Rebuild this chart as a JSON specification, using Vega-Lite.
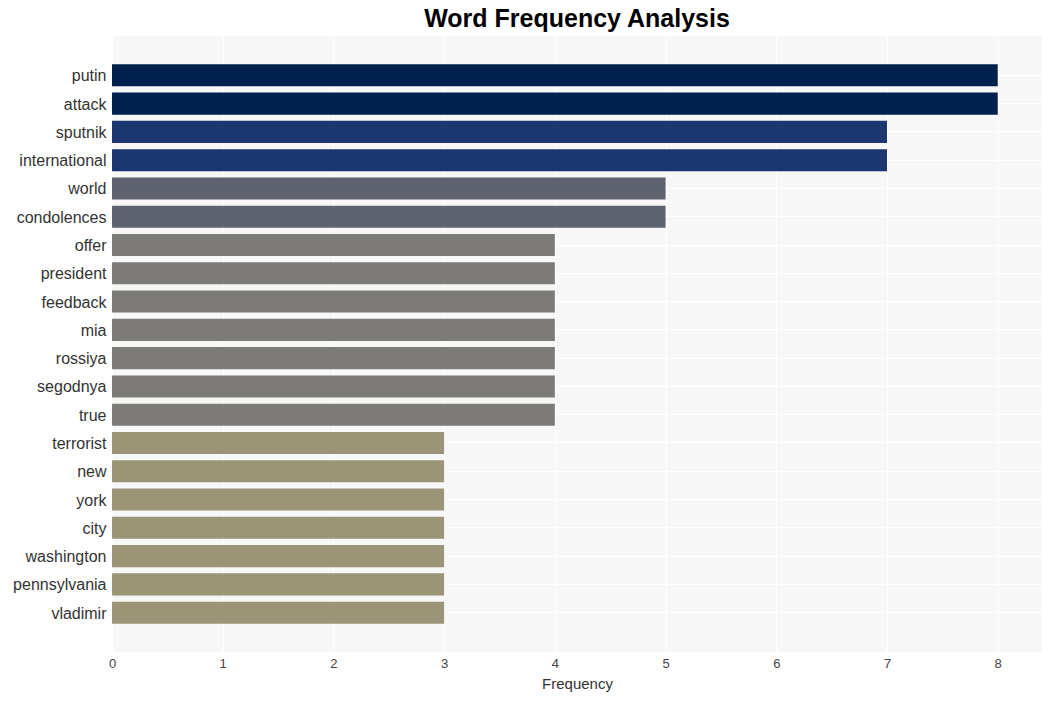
{
  "$schema": "https://vega.github.io/schema/vega-lite/v6.json",
  "width": 930,
  "height": 616,
  "autosize": {"type": "none"},
  "padding": {"left": 112, "top": 36, "right": 9, "bottom": 49},
  "background": "white",
  "title": {"text": "Word Frequency Analysis", "fontSize": 25, "font": "Liberation Sans", "fontWeight": "bold", "color": "black", "anchor": "middle", "offset": 4},
  "data": {"values": [
    {"word": "putin", "freq": 8},
    {"word": "attack", "freq": 8},
    {"word": "sputnik", "freq": 7},
    {"word": "international", "freq": 7},
    {"word": "world", "freq": 5},
    {"word": "condolences", "freq": 5},
    {"word": "offer", "freq": 4},
    {"word": "president", "freq": 4},
    {"word": "feedback", "freq": 4},
    {"word": "mia", "freq": 4},
    {"word": "rossiya", "freq": 4},
    {"word": "segodnya", "freq": 4},
    {"word": "true", "freq": 4},
    {"word": "terrorist", "freq": 3},
    {"word": "new", "freq": 3},
    {"word": "york", "freq": 3},
    {"word": "city", "freq": 3},
    {"word": "washington", "freq": 3},
    {"word": "pennsylvania", "freq": 3},
    {"word": "vladimir", "freq": 3}
  ]},
  "config": {
    "view": {"fill": "#f7f7f7", "stroke": null},
    "font": "Liberation Sans"
  },
  "mark": {"type": "bar"},
  "encoding": {
    "y": {
      "field": "word", "type": "nominal", "sort": null,
      "scale": {"paddingInner": 0.22, "paddingOuter": 1.0},
      "axis": {"title": null, "domain": false, "ticks": false, "labelFontSize": 16, "labelColor": "#333333", "labelPadding": 6, "labelOffset": 1, "grid": true, "gridColor": "white", "gridWidth": 1}
    },
    "x": {
      "field": "freq", "type": "quantitative",
      "scale": {"domain": [0, 8.4], "nice": false, "zero": true},
      "axis": {"title": "Frequency", "titleFontSize": 15, "titleFontWeight": "normal", "titleColor": "#333333", "titlePadding": 6, "values": [0,1,2,3,4,5,6,7,8], "format": "d", "domain": false, "ticks": false, "labelFlush": false, "labelFontSize": 13, "labelColor": "#444444", "labelPadding": 5, "grid": true, "gridColor": "white", "gridWidth": 1.2}
    },
    "color": {
      "field": "freq", "type": "ordinal", "legend": null,
      "scale": {"domain": [3, 4, 5, 7, 8], "range": ["#9b9477", "#7c7b78", "#5f636f", "#1b3671", "#00214e"]}
    }
  }
}
